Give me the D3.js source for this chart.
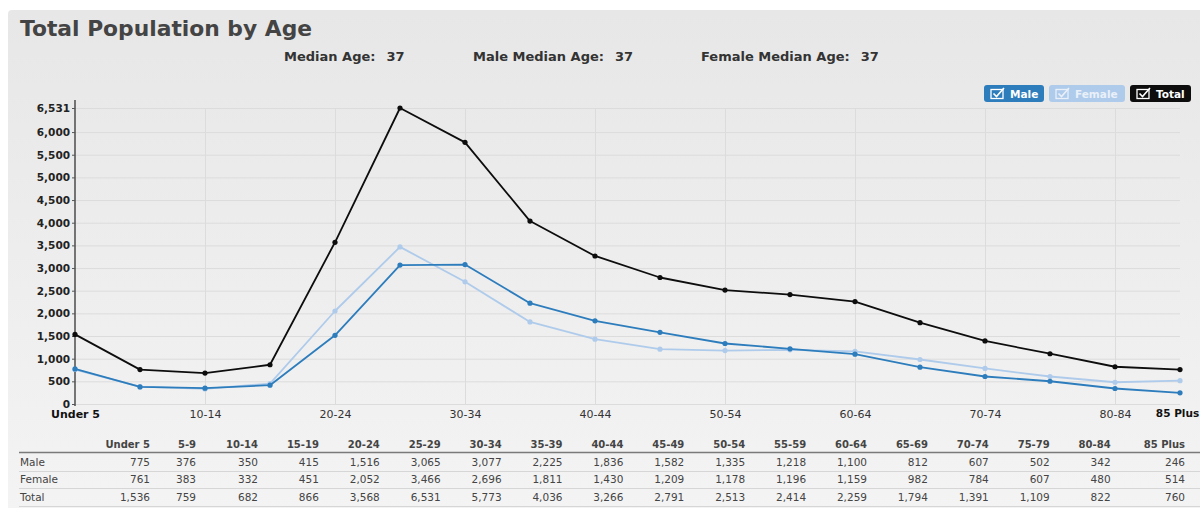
<!DOCTYPE html>
<html>
<head>
<meta charset="utf-8">
<script src="https://cdn.jsdelivr.net/npm/d3@7"></script>
<style>
  html, body { margin: 0; padding: 0; background: #fff; }
  svg { display: block; font-family: "DejaVu Sans", "Liberation Sans", Arial, sans-serif; }
</style>
</head>
<body>
<svg id="chart" width="1200" height="508"></svg>
<script>
// Age groups (5-year bands)
const ageGroups = ["Under 5","5-9","10-14","15-19","20-24","25-29","30-34","35-39","40-44",
  "45-49","50-54","55-59","60-64","65-69","70-74","75-79","80-84","85 Plus"];
const maleValues   = [775,376,350,415,1516,3065,3077,2225,1836,1582,1335,1218,1100,812,607,502,342,246];
const femaleValues = [761,383,332,451,2052,3466,2696,1811,1430,1209,1178,1196,1159,982,784,607,480,514];
const totalValues  = [1536,759,682,866,3568,6531,5773,4036,3266,2791,2513,2414,2259,1794,1391,1109,822,760];
const yTicks = [0,500,1000,1500,2000,2500,3000,3500,4000,4500,5000,5500,6000,6531];
const medianStats = [
  {label: "Median Age:", value: 37},
  {label: "Male Median Age:", value: 37},
  {label: "Female Median Age:", value: 37}
];

const series = [
  {name: "Male",   values: maleValues,   color: "#2d7dbd", text: "#ffffff"},
  {name: "Female", values: femaleValues, color: "#afcbeb", text: "#e9f0f8"},
  {name: "Total",  values: totalValues,  color: "#0d0d0d", text: "#ffffff"}
];

const svg = d3.select("#chart");
const fmt = d3.format(",");
const FONT = "DejaVu Sans, Liberation Sans, Arial, sans-serif";

// Panel background
const defs = svg.append("defs");
const grad = defs.append("linearGradient").attr("id", "panelBg")
  .attr("x1", 0).attr("y1", 0).attr("x2", 0).attr("y2", 1);
grad.append("stop").attr("offset", "0%").attr("stop-color", "#e7e7e7");
grad.append("stop").attr("offset", "100%").attr("stop-color", "#f4f4f4");
svg.append("rect").attr("x", 8).attr("y", 10).attr("width", 1200).attr("height", 520)
  .attr("rx", 4).attr("fill", "url(#panelBg)");

// Title
svg.append("text").attr("x", 20).attr("y", 36)
  .attr("font-size", 21.8).attr("font-weight", "bold").attr("fill", "#444")
  .text("Total Population by Age");

// Median statistics
const statX = [284, 473, 701];
const statG = svg.append("g").attr("font-size", 13).attr("font-weight", "bold").attr("fill", "#333");
medianStats.forEach((s, i) => {
  const t = statG.append("text").attr("x", statX[i]).attr("y", 61);
  t.append("tspan").text(s.label);
  t.append("tspan").attr("dx", 11).text(s.value);
});

// Scales
const margin = {left: 75, right: 1180, top: 108, bottom: 404};
const x = d3.scalePoint().domain(ageGroups).range([margin.left, margin.right]);
const y = d3.scaleLinear().domain([0, d3.max(totalValues)]).range([margin.bottom, margin.top]);

// Gridlines
const grid = svg.append("g");
grid.selectAll("line.h").data(yTicks).join("line").attr("class", "h")
  .attr("x1", margin.left).attr("x2", margin.right)
  .attr("y1", d => y(d) + 0.5).attr("y2", d => y(d) + 0.5)
  .attr("stroke", "#dcdcdc").attr("stroke-width", 1);
const xLabelGroups = ageGroups.filter((d, i) => i % 2 === 0 || i === ageGroups.length - 1);
grid.selectAll("line.v").data(ageGroups.filter((d, i) => i % 2 === 0 && i > 0)).join("line").attr("class", "v")
  .attr("x1", d => x(d) + 0.5).attr("x2", d => x(d) + 0.5)
  .attr("y1", margin.top).attr("y2", margin.bottom)
  .attr("stroke", "#dcdcdc").attr("stroke-width", 1);

// Y axis
const yAxis = d3.axisLeft(y).tickValues(yTicks).tickFormat(fmt).tickSize(3).tickPadding(2);
const yg = svg.append("g").attr("transform", `translate(${margin.left},0)`).call(yAxis);
yg.select(".domain").attr("stroke", "#333").attr("stroke-width", 1.3)
  .attr("d", `M0,${margin.top - 8}V${margin.bottom + 2}`);
yg.selectAll(".tick line").attr("stroke", "#555");
yg.selectAll(".tick text").attr("font-size", 10.5).attr("font-weight", "bold").attr("fill", "#222")
  .attr("font-family", FONT);

// X axis labels (first and last are emphasised; last one kept inside the frame)
const edgeLabel = d => d === "Under 5" || d === "85 Plus";
const xAxis = d3.axisBottom(x).tickValues(xLabelGroups).tickSize(0).tickPadding(6);
const xg = svg.append("g").attr("transform", `translate(0,${margin.bottom})`).call(xAxis);
xg.select(".domain").remove();
xg.selectAll(".tick text").attr("font-family", FONT)
  .attr("font-size", d => d === "85 Plus" ? 10.5 : 11)
  .attr("font-weight", d => edgeLabel(d) ? "bold" : "normal")
  .attr("fill", d => edgeLabel(d) ? "#111" : "#333")
  .attr("dx", d => d === "85 Plus" ? -3 : 0);

// Lines and points
const line = d3.line().x((d, i) => x(ageGroups[i])).y(d => y(d));
const seriesG = svg.append("g").selectAll("g").data([series[1], series[0], series[2]]).join("g");
seriesG.append("path")
  .attr("d", d => line(d.values))
  .attr("fill", "none").attr("stroke", d => d.color).attr("stroke-width", 1.8)
  .attr("stroke-linejoin", "round");
seriesG.selectAll("circle").data(d => d.values.map(v => ({v, c: d.color}))).join("circle")
  .attr("cx", (d, i) => x(ageGroups[i])).attr("cy", d => y(d.v)).attr("r", 2.6)
  .attr("fill", d => d.c);

// Legend buttons
const legendX = [984, 1049, 1130];
const legendW = [60, 76, 61];
const lg = svg.append("g");
series.forEach((s, i) => {
  const g = lg.append("g").attr("transform", `translate(${legendX[i]},85)`);
  g.append("rect").attr("width", legendW[i]).attr("height", 17).attr("rx", 3).attr("fill", s.color);
  // checkbox icon
  g.append("rect").attr("x", 7).attr("y", 4.5).attr("width", 12).attr("height", 9)
    .attr("fill", "none").attr("stroke", s.text).attr("stroke-width", 1.3);
  g.append("path").attr("d", "M9.5,8.5 L12.5,11.5 L20,3")
    .attr("fill", "none").attr("stroke", s.text).attr("stroke-width", 1.6);
  g.append("text").attr("x", 26).attr("y", 13).attr("font-size", 10.5).attr("font-weight", "bold")
    .attr("fill", s.text).text(s.name);
});

// Data table
const colRight = ageGroups.map((d, i) => i === 0 ? 150 : i === 1 ? 196 : i === ageGroups.length - 1 ? 1185 : 258 + (i - 2) * 60.9);
const tg = svg.append("g").attr("font-size", 10.5);
tg.selectAll("text.hdr").data(ageGroups).join("text").attr("class", "hdr")
  .attr("x", (d, i) => colRight[i]).attr("y", 448).attr("text-anchor", "end")
  .attr("font-size", 10).attr("font-weight", "bold").attr("fill", "#444").text(d => d);
tg.append("line").attr("x1", 19).attr("x2", 1200).attr("y1", 452.5).attr("y2", 452.5)
  .attr("stroke", "#7a7a7a").attr("stroke-width", 1.6);
const rowY = [466, 483, 501];
const rowLineY = [471.5, 488.5, 506.5];
series.forEach((s, r) => {
  tg.append("text").attr("x", 20).attr("y", rowY[r]).attr("fill", "#444").text(s.name);
  tg.selectAll(`text.r${r}`).data(s.values).join("text").attr("class", `r${r}`)
    .attr("x", (d, i) => colRight[i]).attr("y", rowY[r]).attr("text-anchor", "end")
    .attr("fill", "#444").text(d => fmt(d));
  tg.append("line").attr("x1", 19).attr("x2", 1200).attr("y1", rowLineY[r]).attr("y2", rowLineY[r])
    .attr("stroke", "#d6d6d6").attr("stroke-width", 1);
});
</script>
</body>
</html>
